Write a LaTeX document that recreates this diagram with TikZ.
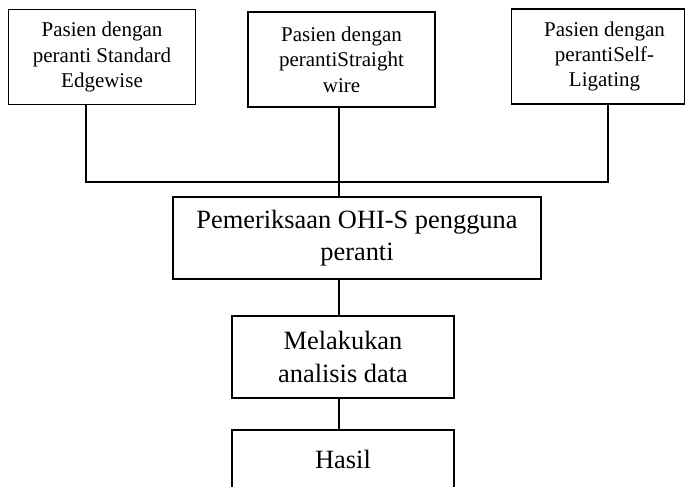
\documentclass[tikz,border=0pt]{standalone}
\usepackage{fontspec}
\setmainfont{Liberation Serif}
\usepackage{tikz}
\usetikzlibrary{positioning, calc}

\begin{document}
\begin{tikzpicture}[
  x=0.5pt, y=-0.5pt,
  box/.style={rectangle, draw, line width=0.9pt, inner sep=0pt, align=center},
  topbox/.style={box, minimum width=93.5pt, minimum height=47.5pt, font=\fontsize{10.5}{12.7}\selectfont},
  midbox/.style={box, line width=0.8pt, minimum height=41pt, font=\fontsize{13.2}{16.2}\selectfont},
  link/.style={line width=0.6pt}
]
  \useasboundingbox (0,0) rectangle (686,487);
  \clip (0,0) rectangle (686,487);
  \node[topbox] (edgewise) at (102,57) {Pasien dengan\\peranti Standard\\Edgewise};
  \node[topbox] (straight) at (341.5,59.5) {Pasien dengan\\perantiStraight\\wire};
  \node[topbox, minimum width=86.5pt] (selflig) at (598,56.5) {\hspace*{6.5pt}Pasien dengan\\\hspace*{6.5pt}perantiSelf-\\\hspace*{6.5pt}Ligating};
  \node[midbox, minimum width=184pt] (ohis) at (357,238) {Pemeriksaan OHI-S pengguna\\peranti};
  \node[midbox, minimum width=111pt] (analisis) at (343,357) {Melakukan\\analisis data};
  \node[midbox, minimum width=111pt, minimum height=29pt] (hasil) at (343,459) {Hasil};
  \coordinate (busL) at (86,182);
  \coordinate (busR) at (608,182);
  \coordinate (trunk) at (339,0);
  \draw[link, line width=0.8pt] (busL |- edgewise.south) -- (busL) -- (busR) -- (busR |- selflig.south);
  \draw[link, line width=0.7pt] (trunk |- straight.south) -- (trunk |- ohis.north);
  \draw[link] (trunk |- ohis.south) -- (trunk |- analisis.north);
  \draw[link] (trunk |- analisis.south) -- (trunk |- hasil.north);
\end{tikzpicture}
\end{document}
